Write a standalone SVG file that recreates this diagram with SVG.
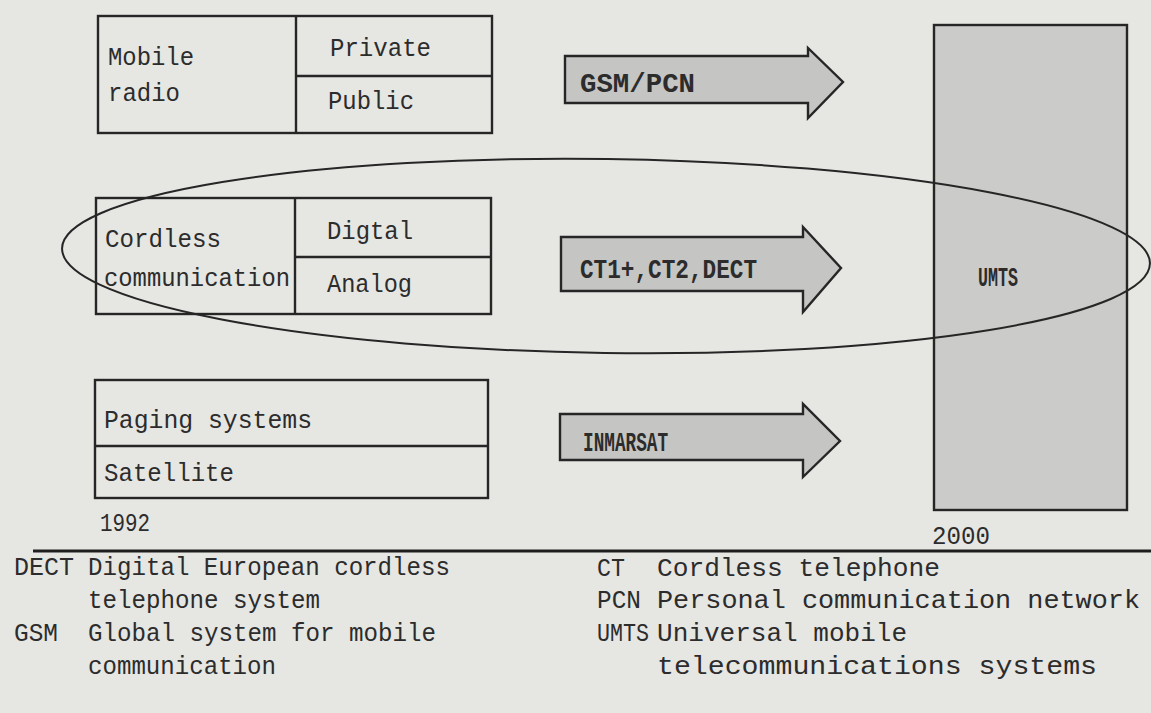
<svg xmlns="http://www.w3.org/2000/svg" width="1151" height="713" viewBox="0 0 1151 713">
<style>
.bg{fill:#e6e6e3}
.box{fill:none;stroke:#262626;stroke-width:2.4}
.arrow{fill:#c5c5c3;stroke:#262626;stroke-width:2.4;stroke-linejoin:miter}
.umts{fill:#cbcbc9;stroke:#262626;stroke-width:2.4}
.t{font-family:"Liberation Mono","DejaVu Sans Mono",monospace;font-size:26px;fill:#2c2c2c}
.a{font-family:"Liberation Mono","DejaVu Sans Mono",monospace;font-size:28px;fill:#2c2c2c;font-weight:bold}
.ell{fill:none;stroke:#262626;stroke-width:2}
</style>
<rect class="bg" x="0" y="0" width="1151" height="713"/>

<g id="umts">
<rect class="umts" x="934" y="25" width="193" height="485"/>
<text class="a" x="978" y="286" textLength="40" lengthAdjust="spacingAndGlyphs">UMTS</text>
<text class="t" x="932" y="544" textLength="58" lengthAdjust="spacingAndGlyphs">2000</text>
</g>

<g id="mobile-radio">
<rect class="box" x="98" y="16" width="394" height="117"/>
<line class="box" x1="296" y1="16" x2="296" y2="133"/>
<line class="box" x1="296" y1="76" x2="492" y2="76"/>
<text class="t" x="108" y="65" textLength="86" lengthAdjust="spacingAndGlyphs">Mobile</text>
<text class="t" x="108" y="101" textLength="72" lengthAdjust="spacingAndGlyphs">radio</text>
<text class="t" x="330" y="56" textLength="101" lengthAdjust="spacingAndGlyphs">Private</text>
<text class="t" x="328" y="109" textLength="86" lengthAdjust="spacingAndGlyphs">Public</text>
</g>

<g id="cordless">
<rect class="box" x="96" y="198" width="395" height="116"/>
<line class="box" x1="295" y1="198" x2="295" y2="314"/>
<line class="box" x1="295" y1="257" x2="491" y2="257"/>
<text class="t" x="105" y="247" textLength="116" lengthAdjust="spacingAndGlyphs">Cordless</text>
<text class="t" x="104" y="286" textLength="186" lengthAdjust="spacingAndGlyphs">communication</text>
<text class="t" x="327" y="239" textLength="86" lengthAdjust="spacingAndGlyphs">Digtal</text>
<text class="t" x="327" y="292" textLength="85" lengthAdjust="spacingAndGlyphs">Analog</text>
</g>

<g id="paging">
<rect class="box" x="95" y="380" width="393" height="118"/>
<line class="box" x1="95" y1="446" x2="488" y2="446"/>
<text class="t" x="104" y="428" textLength="208" lengthAdjust="spacingAndGlyphs">Paging systems</text>
<text class="t" x="104" y="481" textLength="130" lengthAdjust="spacingAndGlyphs">Satellite</text>
<text class="t" x="100" y="531" textLength="50" lengthAdjust="spacingAndGlyphs">1992</text>
</g>

<g id="connectors">
<g id="arrow-gsm">
<path class="arrow" d="M565,56 L808,56 L808,48 L843,82 L808,118 L808,103 L565,103 Z"/>
<text class="a" x="580" y="92" textLength="115" lengthAdjust="spacingAndGlyphs">GSM/PCN</text>
</g>
<g id="arrow-ct">
<path class="arrow" d="M561,237 L803,237 L803,227 L841,268 L803,312 L803,291 L561,291 Z"/>
<text class="a" x="580" y="278" textLength="177" lengthAdjust="spacingAndGlyphs">CT1+,CT2,DECT</text>
</g>
<g id="arrow-inmarsat">
<path class="arrow" d="M560,414 L803,414 L803,404 L840,441 L803,477 L803,460 L560,460 Z"/>
<text class="a" x="583" y="451" textLength="85" lengthAdjust="spacingAndGlyphs">INMARSAT</text>
</g>
<ellipse class="ell" cx="606" cy="256" rx="544" ry="97" transform="rotate(0.8 606 256)"/>
</g>

<line x1="33" y1="551" x2="1151" y2="551" stroke="#1e1e1e" stroke-width="3"/>

<g id="legend">
<text class="t" x="14" y="575" textLength="60" lengthAdjust="spacingAndGlyphs">DECT</text>
<text class="t" x="88" y="575" textLength="362" lengthAdjust="spacingAndGlyphs">Digital European cordless</text>
<text class="t" x="88" y="608" textLength="232" lengthAdjust="spacingAndGlyphs">telephone system</text>
<text class="t" x="14" y="641" textLength="44" lengthAdjust="spacingAndGlyphs">GSM</text>
<text class="t" x="88" y="641" textLength="348" lengthAdjust="spacingAndGlyphs">Global system for mobile</text>
<text class="t" x="88" y="674" textLength="188" lengthAdjust="spacingAndGlyphs">communication</text>
<text class="t" x="597" y="576" textLength="28" lengthAdjust="spacingAndGlyphs">CT</text>
<text class="t" x="657" y="576" textLength="283" lengthAdjust="spacingAndGlyphs">Cordless telephone</text>
<text class="t" x="597" y="608" textLength="44" lengthAdjust="spacingAndGlyphs">PCN</text>
<text class="t" x="657" y="608" textLength="483" lengthAdjust="spacingAndGlyphs">Personal communication network</text>
<text class="t" x="597" y="641" textLength="52" lengthAdjust="spacingAndGlyphs">UMTS</text>
<text class="t" x="657" y="641" textLength="250" lengthAdjust="spacingAndGlyphs">Universal mobile</text>
<text class="t" x="657" y="674" textLength="440" lengthAdjust="spacingAndGlyphs">telecommunications systems</text>
</g>
</svg>
